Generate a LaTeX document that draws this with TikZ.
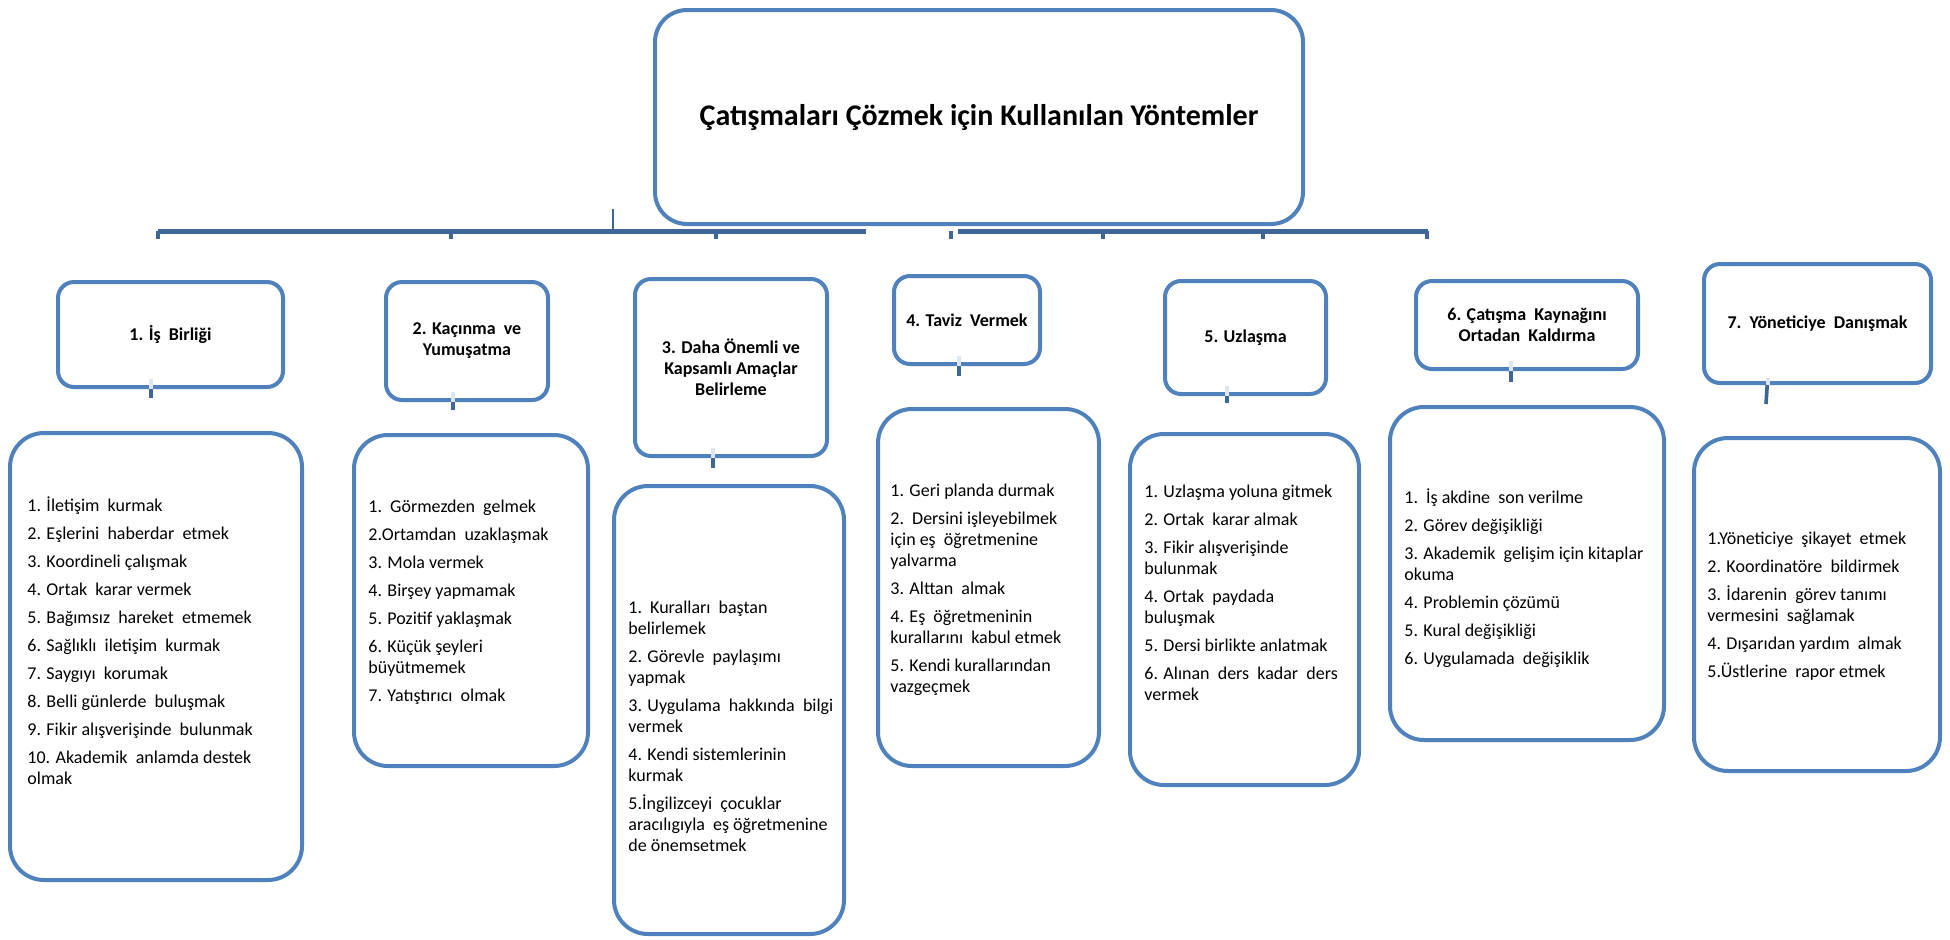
\documentclass[tikz,border=0pt]{standalone}
\usepackage{fontspec}
\setmainfont{Carlito}
\definecolor{boxblue}{RGB}{79,129,189}
\definecolor{barblue}{RGB}{62,102,150}
\definecolor{stubpale}{RGB}{222,230,242}
\newcommand{\itm}{\\[3.5pt]}
\begin{document}
\begin{tikzpicture}[x=0.5pt,y=-0.5pt,
  box/.style={draw=boxblue, line width=2pt, fill=white, inner sep=0pt},
  titlebox/.style={box, rounded corners=16pt, font=\fontsize{15}{18}\selectfont\bfseries},
  hdr/.style={box, rounded corners=8pt, font=\fontsize{9}{10.5}\selectfont\bfseries, align=center},
  lst/.style={box, rounded corners=17pt},
  lsttext/.style={anchor=north west, inner sep=0pt, align=left, font=\fontsize{9}{10.5}\selectfont},
  bar/.style={draw=barblue, line width=2.5pt},
  tickline/.style={draw=barblue, line width=1.6pt},
  stubdark/.style={draw=barblue, line width=1.8pt},
  stublight/.style={draw=stubpale, line width=1.8pt}
]
\useasboundingbox[fill=white] (0,0) rectangle (1950,939);

% ---- connector bar ----
\coordinate (barL) at (158,231);
\coordinate (barM) at (866,231);
\coordinate (barR0) at (958,231);
\coordinate (barR) at (1428,231);
\coordinate (upTop) at (613,209);
\coordinate (upBot) at (613,231);
\draw[bar] (barL) -- (barM);
\draw[bar] (barR0) -- (barR);
\draw[stubdark, line width=1.4pt] (upTop) -- (upBot);
\foreach \tx/\nm in {158/a,451/b,716/c,951/d,1103/e,1263/f,1427/g}{
  \coordinate (tk\nm) at (\tx,231);
  \draw[tickline] (tk\nm) -- ++(0,8);
}

% ---- title ----
\node[titlebox, minimum width=324pt, minimum height=107pt] (title) at (979,117)
  {Çatışmaları Çözmek için Kullanılan Yöntemler};

% ---- headers ----
\node[hdr, minimum width=112.5pt, minimum height=52.5pt] (h1) at (170.5,334.5) {1. İş\ \ Birliği};
\node[hdr, minimum width=81pt, minimum height=59pt] (h2) at (467,341) {2. Kaçınma\ \ ve\\Yumuşatma};
\node[hdr, minimum width=96pt, minimum height=88.5pt] (h3) at (731,367.5) {3. Daha Önemli ve\\Kapsamlı Amaçlar\\Belirleme};
\node[hdr, minimum width=73pt, minimum height=44pt] (h4) at (967,320) {4. Taviz\ \ Vermek};
\node[hdr, minimum width=80.5pt, minimum height=56.5pt] (h5) at (1245.5,337.5) {5. Uzlaşma};
\node[hdr, minimum width=111pt, minimum height=44pt] (h6) at (1527,325) {6. Çatışma\ \ Kaynağını\\Ortadan\ \ Kaldırma};
\node[hdr, minimum width=113.5pt, minimum height=59.5pt] (h7) at (1817.5,323.5) {7.\ \ Yöneticiye\ \ Danışmak};

% ---- stubs under headers ----
\foreach \h/\sx/\sy in {h1/151/398, h2/453/410, h3/713/468, h4/959/376, h5/1227/403, h6/1511/382}{
  \coordinate (s\h) at (\sx,\sy);
  \draw[stublight] ([yshift=5pt]\h.south -| s\h) -- (\h.south -| s\h);
  \draw[stubdark] (\h.south -| s\h) -- (s\h);
}
\coordinate (sh7) at (1766,404);
\coordinate (sh7top) at (1768,378);
\draw[stublight] (sh7top) -- (h7.south -| sh7top);
\draw[stubdark] ([xshift=-0.4pt]h7.south -| sh7top) -- (sh7);

% ---- list boxes ----
\node[lst, minimum width=146pt, minimum height=223.5pt] (l1) at (156,656.5) {};
\node[lst, minimum width=117pt, minimum height=165.5pt] (l2) at (471,600.5) {};
\node[lst, minimum width=115pt, minimum height=224pt] (l3) at (729,710) {};
\node[lst, minimum width=110.5pt, minimum height=178.5pt] (l4) at (988.5,587.5) {};
\node[lst, minimum width=114.5pt, minimum height=175.5pt] (l5) at (1244.5,609.5) {};
\node[lst, minimum width=137pt, minimum height=166.5pt] (l6) at (1527,573.5) {};
\node[lst, minimum width=123pt, minimum height=166.5pt] (l7) at (1817,604.5) {};

\node[lsttext] (t1) at (27,496) {1. İletişim\ \ kurmak\itm
2. Eşlerini\ \ haberdar\ \ etmek\itm
3. Koordineli çalışmak\itm
4. Ortak\ \ karar vermek\itm
5. Bağımsız\ \ hareket\ \ etmemek\itm
6. Sağlıklı\ \ iletişim\ \ kurmak\itm
7. Saygıyı\ \ korumak\itm
8. Belli günlerde\ \ buluşmak\itm
9. Fikir alışverişinde\ \ bulunmak\itm
10. Akademik\ \ anlamda destek\\olmak};

\node[lsttext] (t2) at (368,500) {1.\ \ Görmezden\ \ gelmek\itm
2.Ortamdan\ \ uzaklaşmak\itm
3. Mola vermek\itm
4. Birşey yapmamak\itm
5. Pozitif yaklaşmak\itm
6. Küçük şeyleri\\büyütmemek\itm
7. Yatıştırıcı\ \ olmak};

\node[lsttext] (t3) at (628,601) {1.\ \ Kuralları\ \ baştan\\belirlemek\itm
2. Görevle\ \ paylaşımı\\yapmak\itm
3. Uygulama\ \ hakkında\ \ bilgi\\vermek\itm
4. Kendi sistemlerinin\\kurmak\itm
5.İngilizceyi\ \ çocuklar\\aracılıgıyla\ \ eş öğretmenine\\de önemsetmek};

\node[lsttext] (t4) at (890,484) {1. Geri planda durmak\itm
2.\ \ Dersini işleyebilmek\\için eş\ \ öğretmenine\\yalvarma\itm
3. Alttan\ \ almak\itm
4. Eş\ \ öğretmeninin\\kurallarını\ \ kabul etmek\itm
5. Kendi kurallarından\\vazgeçmek};

\node[lsttext] (t5) at (1144,485) {1. Uzlaşma yoluna gitmek\itm
2. Ortak\ \ karar almak\itm
3. Fikir alışverişinde\\bulunmak\itm
4. Ortak\ \ paydada\\buluşmak\itm
5. Dersi birlikte anlatmak\itm
6. Alınan\ \ ders\ \ kadar\ \ ders\\vermek};

\node[lsttext] (t6) at (1404,488) {1.\ \ İş akdine\ \ son verilme\itm
2. Görev değişikliği\itm
3. Akademik\ \ gelişim için kitaplar\\okuma\itm
4. Problemin çözümü\itm
5. Kural değişikliği\itm
6. Uygulamada\ \ değişiklik};

\node[lsttext] (t7) at (1707,532) {1.Yöneticiye\ \ şikayet\ \ etmek\itm
2. Koordinatöre\ \ bildirmek\itm
3. İdarenin\ \ görev tanımı\\vermesini\ \ sağlamak\itm
4. Dışarıdan yardım\ \ almak\itm
5.Üstlerine\ \ rapor etmek};
\end{tikzpicture}
\end{document}
